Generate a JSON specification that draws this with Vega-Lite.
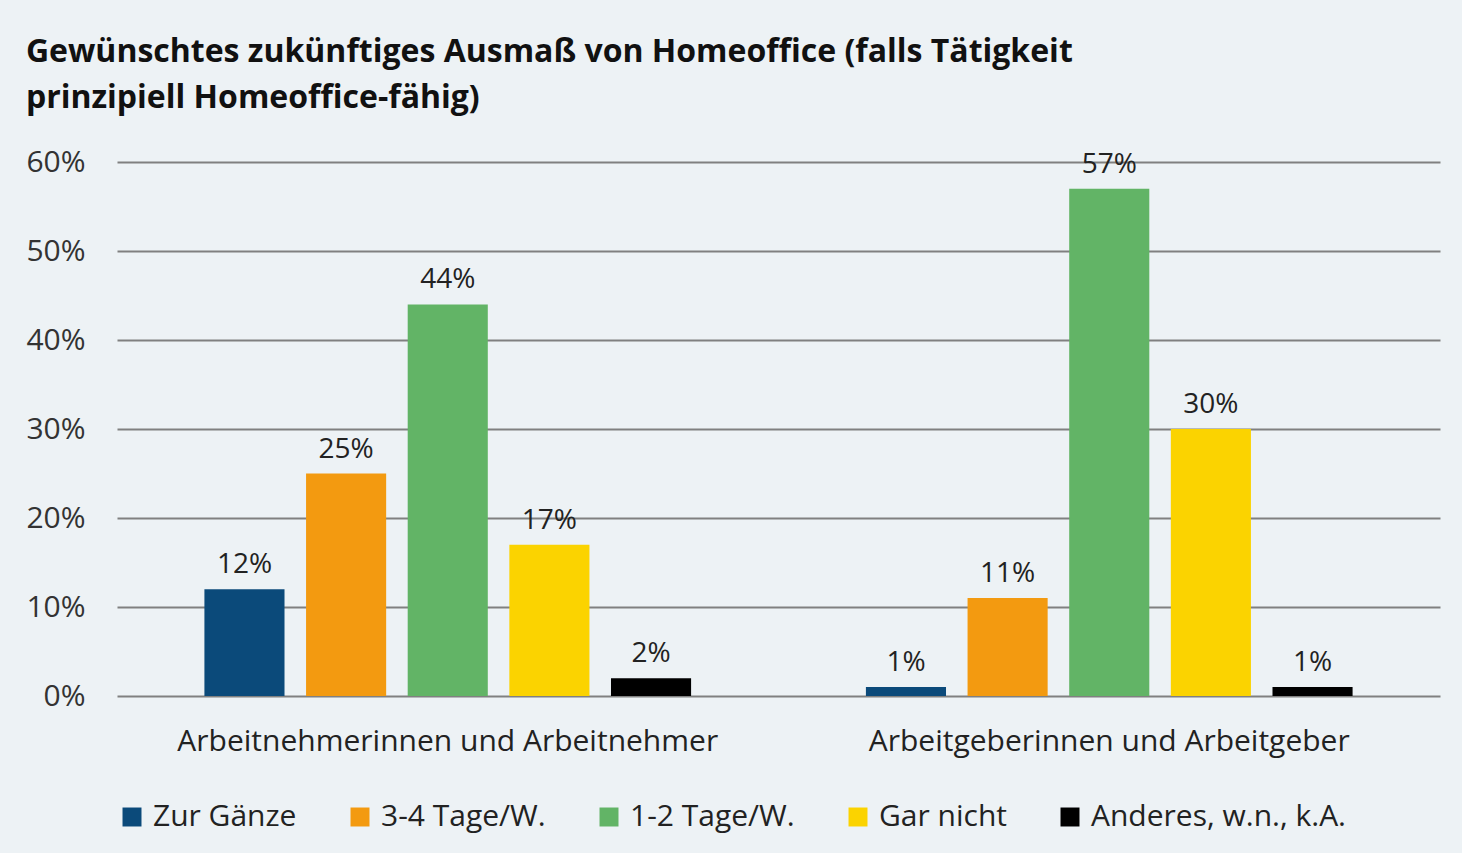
{
  "$schema": "https://vega.github.io/schema/vega-lite/v6.json",
  "autosize": "none",
  "width": 1323,
  "height": 534,
  "padding": {"left": 117, "top": 162, "right": 22, "bottom": 157},
  "background": "#edf2f5",
  "title": {
    "text": ["Gewünschtes zukünftiges Ausmaß von Homeoffice (falls Tätigkeit", "prinzipiell Homeoffice-fähig)"],
    "anchor": "start",
    "frame": "bounds",
    "font": "Open Sans",
    "fontSize": 32,
    "fontWeight": "bold",
    "color": "#111111",
    "lineHeight": 46,
    "offset": 32
  },
  "config": {
    "view": {"stroke": null},
    "font": "Open Sans"
  },
  "data": {
    "values": [
      {"gruppe": "Arbeitnehmerinnen und Arbeitnehmer", "kategorie": "Zur Gänze", "wert": 0.12},
      {"gruppe": "Arbeitnehmerinnen und Arbeitnehmer", "kategorie": "3-4 Tage/W.", "wert": 0.25},
      {"gruppe": "Arbeitnehmerinnen und Arbeitnehmer", "kategorie": "1-2 Tage/W.", "wert": 0.44},
      {"gruppe": "Arbeitnehmerinnen und Arbeitnehmer", "kategorie": "Gar nicht", "wert": 0.17},
      {"gruppe": "Arbeitnehmerinnen und Arbeitnehmer", "kategorie": "Anderes, w.n., k.A.", "wert": 0.02},
      {"gruppe": "Arbeitgeberinnen und Arbeitgeber", "kategorie": "Zur Gänze", "wert": 0.01},
      {"gruppe": "Arbeitgeberinnen und Arbeitgeber", "kategorie": "3-4 Tage/W.", "wert": 0.11},
      {"gruppe": "Arbeitgeberinnen und Arbeitgeber", "kategorie": "1-2 Tage/W.", "wert": 0.57},
      {"gruppe": "Arbeitgeberinnen und Arbeitgeber", "kategorie": "Gar nicht", "wert": 0.30},
      {"gruppe": "Arbeitgeberinnen und Arbeitgeber", "kategorie": "Anderes, w.n., k.A.", "wert": 0.01}
    ]
  },
  "encoding": {
    "x": {
      "field": "gruppe",
      "type": "nominal",
      "sort": ["Arbeitnehmerinnen und Arbeitnehmer", "Arbeitgeberinnen und Arbeitgeber"],
      "scale": {"paddingInner": 0, "paddingOuter": 0},
      "axis": {
        "title": null,
        "labelAngle": 0,
        "labelFontSize": 30,
        "labelColor": "#222222",
        "labelPadding": 30,
        "labelLimit": 800,
        "ticks": false,
        "domain": false
      }
    },
    "xOffset": {
      "field": "kategorie",
      "type": "nominal",
      "sort": ["Zur Gänze", "3-4 Tage/W.", "1-2 Tage/W.", "Gar nicht", "Anderes, w.n., k.A."],
      "scale": {"paddingInner": 0.212, "paddingOuter": 0.86}
    },
    "y": {
      "field": "wert",
      "type": "quantitative",
      "scale": {"domain": [0, 0.6]},
      "axis": {
        "title": null,
        "values": [0, 0.1, 0.2, 0.3, 0.4, 0.5, 0.6],
        "format": ".0%",
        "labelFontSize": 30,
        "labelColor": "#333333",
        "labelPadding": 32,
        "ticks": false,
        "domain": false,
        "grid": true,
        "gridColor": "#808080",
        "gridWidth": 2
      }
    }
  },
  "layer": [
    {
      "mark": {"type": "bar"},
      "encoding": {
        "color": {
          "field": "kategorie",
          "type": "nominal",
          "sort": ["Zur Gänze", "3-4 Tage/W.", "1-2 Tage/W.", "Gar nicht", "Anderes, w.n., k.A."],
          "scale": {
            "domain": ["Zur Gänze", "3-4 Tage/W.", "1-2 Tage/W.", "Gar nicht", "Anderes, w.n., k.A."],
            "range": ["#0b4a7a", "#f39a10", "#62b466", "#fbd300", "#000000"]
          },
          "legend": {
            "title": null,
            "orient": "bottom",
            "direction": "horizontal",
            "symbolType": "square",
            "symbolSize": 360,
            "symbolStrokeWidth": 0,
            "labelFontSize": 30,
            "labelColor": "#222222",
            "columnPadding": 48,
            "labelOffset": 6,
            "offset": 46,
            "labelLimit": 400
          }
        }
      }
    },
    {
      "mark": {"type": "text", "baseline": "bottom", "dy": -10, "fontSize": 28, "color": "#222222"},
      "encoding": {
        "text": {"field": "wert", "type": "quantitative", "format": ".0%"},
        "detail": {"field": "kategorie"}
      }
    }
  ]
}
